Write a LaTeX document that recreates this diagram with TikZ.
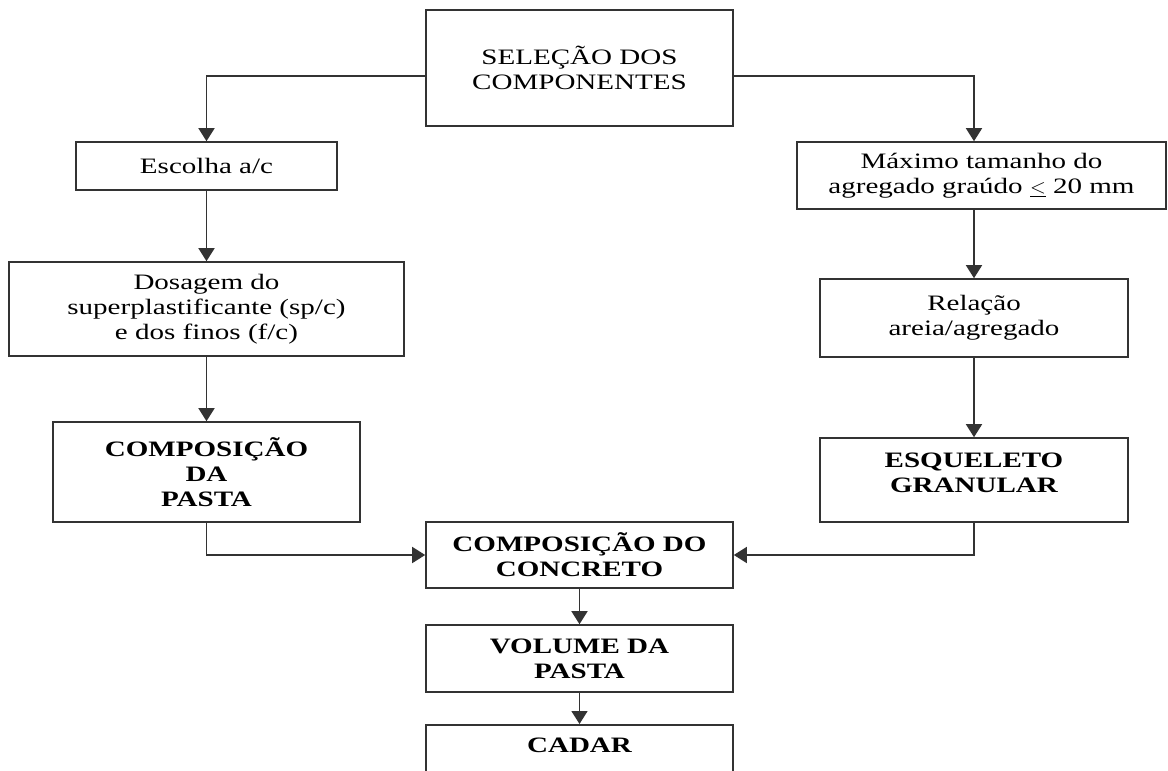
\documentclass[tikz,border=0pt]{standalone}
\usepackage{fontspec}
\setmainfont[FakeStretch=1.32]{Liberation Serif}
\usepackage{amssymb}
\usetikzlibrary{arrows.meta}

\begin{document}
\begin{tikzpicture}[x=1pt,y=-1pt]
  \useasboundingbox (0,0) rectangle (1168,771);
  \begin{scope}[every node/.style={draw=black!80,line width=1.6pt,align=center,inner sep=0pt,font=\fontsize{22}{25}\selectfont},
                every path/.style={line width=1.6pt,draw=black!80},
                flow/.style={-{Triangle[width=16pt,length=13pt]}}]
  \node[minimum width=307,minimum height=116] (selecao) at (579.5,68)
       {SELEÇÃO DOS\\COMPONENTES};
  \node[minimum width=261,minimum height=48] (escolha) at (206.5,166)
       {Escolha a/c};
  \node[minimum width=395,minimum height=94] (dosagem) at (206.5,309)
       {Dosagem do\\superplastificante (sp/c)\\e dos finos (f/c)};
  \node[minimum width=307,minimum height=100,font=\fontsize{22}{25}\selectfont\bfseries] (pasta) at (206.5,472)
       {COMPOSIÇÃO\\DA\\PASTA};
  \node[minimum width=369,minimum height=67] (maximo) at (981.5,175.5)
       {Máximo tamanho do\\agregado graúdo $\underline{<}$ 20 mm};
  \node[minimum width=308,minimum height=78] (relacao) at (974,318)
       {Relação\\areia/agregado};
  \node[minimum width=308,minimum height=84,font=\fontsize{22}{25}\selectfont\bfseries,text depth=14pt] (esqueleto) at (974,480)
       {ESQUELETO\\GRANULAR};
  \node[minimum width=307,minimum height=66,font=\fontsize{22}{25}\selectfont\bfseries] (concreto) at (579.5,555)
       {COMPOSIÇÃO DO\\CONCRETO};
  \node[minimum width=307,minimum height=67,font=\fontsize{22}{25}\selectfont\bfseries] (volume) at (579.5,658.5)
       {VOLUME DA\\PASTA};
  \node[anchor=north,minimum width=307,text height=28pt,text depth=60pt,font=\fontsize{22}{25}\selectfont\bfseries] (cadar) at (579.5,724)
       {CADAR};
  \draw[flow] ([yshift=-8pt]selecao.west) -| (escolha.north);
  \draw[flow] ([yshift=-8pt]selecao.east) -| (relacao.north |- maximo.north);
  \draw[flow] (escolha) -- (dosagem);
  \draw[flow] (dosagem) -- (pasta);
  \draw[flow] (relacao.north |- maximo.south) -- (relacao);
  \draw[flow] (relacao) -- (esqueleto);
  \draw[flow] (pasta.south) |- (concreto.west);
  \draw[flow] (esqueleto.south) |- (concreto.east);
  \draw[flow] (concreto) -- (volume);
  \draw[flow] (volume) -- (cadar);
  \end{scope}
\end{tikzpicture}
\end{document}
